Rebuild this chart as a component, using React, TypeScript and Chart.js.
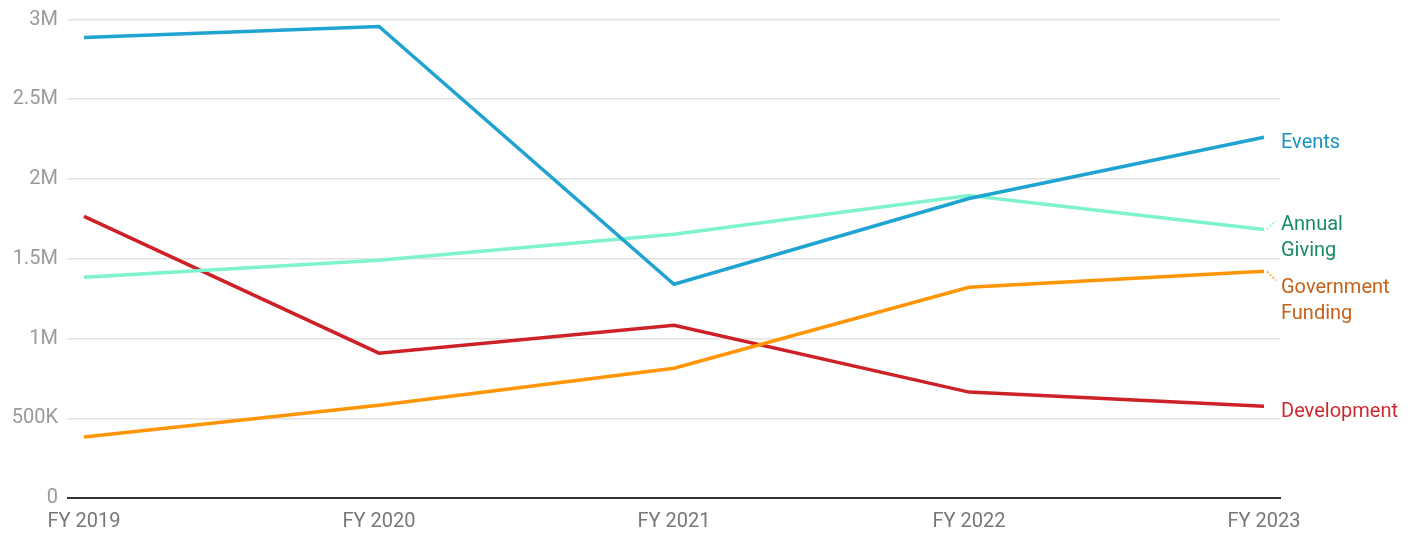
import React, { useEffect, useRef } from "react";
import { Chart, registerables } from "chart.js";

Chart.register(...registerables);

const categories = ["FY 2019", "FY 2020", "FY 2021", "FY 2022", "FY 2023"];
const events = [2887000, 2956000, 1340000, 1878000, 2262000];
const annualGiving = [1384000, 1490000, 1653000, 1897000, 1684000];
const governmentFunding = [382000, 582000, 814000, 1321000, 1421000];
const development = [1766000, 908000, 1083000, 664000, 576000];
const yTicks = [0, 500000, 1000000, 1500000, 2000000, 2500000, 3000000];
const yTickLabels = ["0", "500K", "1M", "1.5M", "2M", "2.5M", "3M"];

const series = [
  { name: ["Events"], data: events, color: "#1fa3d1", text: "#1a94c2", dy: 6, connector: 0 },
  { name: ["Annual", "Giving"], data: annualGiving, color: "#7ef3cd", text: "#178a68", dy: -4, connector: -1 },
  { name: ["Government", "Funding"], data: governmentFunding, color: "#ff9500", text: "#c4621a", dy: 17, connector: 1 },
  { name: ["Development"], data: development, color: "#cc2127", text: "#cc2a2f", dy: 6, connector: 0 },
];

const FONT = "Roboto, 'Noto Sans', sans-serif";

const endLabels = {
  id: "endLabels",
  afterDatasetsDraw(chart: any) {
    const ctx = chart.ctx;
    const xs = chart.scales.x;
    const ys = chart.scales.y;
    ctx.save();
    ctx.font = `20px ${FONT}`;
    ctx.textBaseline = "middle";
    ctx.textAlign = "left";
    series.forEach((s) => {
      const last = s.data.length - 1;
      const px = xs.getPixelForValue(last);
      const py = ys.getPixelForValue(s.data[last]);
      const lx = px + 17;
      const lineH = 26;
      const startY = py + s.dy;
      if (s.connector !== 0) {
        ctx.strokeStyle = s.color;
        ctx.lineWidth = 1.5;
        ctx.setLineDash([2, 2]);
        ctx.beginPath();
        ctx.moveTo(px + 3, py);
        ctx.lineTo(px + 12, py + s.connector * 9);
        ctx.stroke();
        ctx.setLineDash([]);
      }
      ctx.fillStyle = s.text;
      s.name.forEach((line, i) => {
        ctx.fillText(line, lx, startY + i * lineH);
      });
    });
    ctx.restore();
  },
};

export default function App() {
  const ref = useRef<HTMLCanvasElement>(null);
  useEffect(() => {
    document.body.style.margin = "0";
    const canvas = ref.current!;
    const step = 295;
    const chart = new Chart(canvas, {
      type: "line",
      data: {
        datasets: series.map((s) => ({
          label: s.name.join(" "),
          data: s.data.map((v, i) => ({ x: i, y: v })),
          borderColor: s.color,
          backgroundColor: s.color,
          borderWidth: 3.5,
          pointRadius: 0,
          tension: 0,
          fill: false,
        })),
      },
      options: {
        animation: false,
        responsive: false,
        maintainAspectRatio: false,
        layout: { padding: { top: 19.5, right: 135, left: 0, bottom: 0 } },
        plugins: { legend: { display: false }, tooltip: { enabled: false } },
        scales: {
          x: {
            type: "linear",
            min: -16 / step,
            max: 4 + 16 / step,
            afterBuildTicks: (scale: any) => {
              scale.ticks = categories.map((_, i) => ({ value: i }));
            },
            ticks: {
              callback: (v: any) => categories[v as number] ?? "",
              color: "#777777",
              font: { family: FONT, size: 20 },
              padding: 12,
              maxRotation: 0,
              autoSkip: false,
            },
            grid: { display: false, drawTicks: false },
            border: { display: true, color: "#333333", width: 2 },
            afterFit: (scale: any) => {
              scale.height = 35;
              scale.paddingLeft = 0;
              scale.paddingRight = 0;
            },
          },
          y: {
            min: 0,
            max: 3000000,
            afterBuildTicks: (scale: any) => {
              scale.ticks = yTicks.map((v) => ({ value: v }));
            },
            ticks: {
              callback: (v: any) => yTickLabels[yTicks.indexOf(v as number)] ?? "",
              color: "#9a9a9a",
              font: { family: FONT, size: 20 },
              padding: 10,
            },
            grid: {
              color: (c: any) => (c.tick && c.tick.value === 0 ? "rgba(0,0,0,0)" : "#e2e2e2"),
              lineWidth: 1.5,
              drawTicks: false,
            },
            border: { display: false },
            afterFit: (scale: any) => {
              scale.width = 68;
              scale.paddingTop = 0;
              scale.paddingBottom = 0;
            },
          },
        },
      },
      plugins: [endLabels],
    });
    return () => chart.destroy();
  }, []);
  return <canvas ref={ref} width={1415} height={533} style={{ display: "block" }} />;
}
